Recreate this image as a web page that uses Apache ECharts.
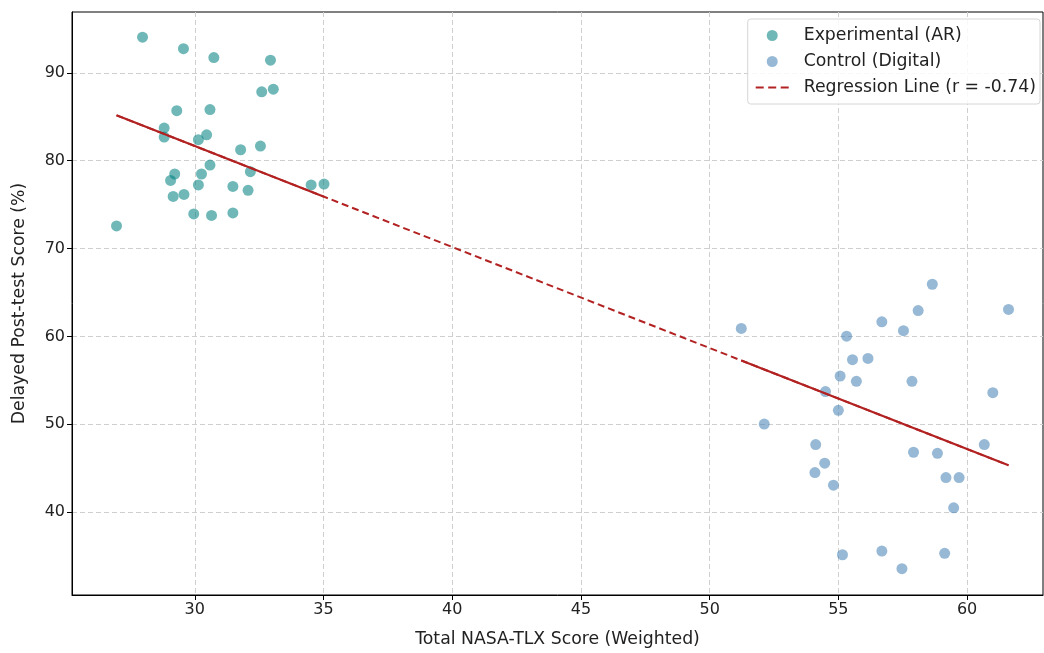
<!DOCTYPE html>
<html>
<head>
<meta charset="utf-8">
<title>NASA-TLX vs Delayed Post-test</title>
<script src="https://cdn.jsdelivr.net/npm/echarts@6/dist/echarts.min.js"></script>
<style>
  html, body { margin: 0; padding: 0; background: #fff; }
  #chart { width: 1044px; height: 653px; }
</style>
</head>
<body>
<div id="chart"></div>
<script>
// experimental group (AR)
const expX = [27.97, 29.56, 30.74, 32.94, 32.60, 33.05, 29.30, 30.59, 28.81, 28.81,
  30.14, 30.46, 31.78, 32.55, 30.59, 32.16, 30.26, 29.22, 29.06, 30.14,
  31.48, 32.07, 34.52, 35.02, 29.16, 29.58, 29.96, 30.65, 31.48, 26.96];
const expY = [94.06, 92.76, 91.74, 91.44, 87.84, 88.15, 85.70, 85.83, 83.72, 82.69,
  82.40, 82.95, 81.25, 81.67, 79.51, 78.75, 78.49, 78.49, 77.76, 77.24,
  77.08, 76.63, 77.24, 77.35, 75.94, 76.17, 73.94, 73.78, 74.06, 72.58];

// control group (Digital)
const ctrlX = [51.23, 58.65, 61.61, 58.10, 56.69, 57.53, 55.32, 55.55, 56.15, 55.07,
  55.70, 57.86, 54.50, 61.00, 55.00, 52.12, 54.12, 60.67, 57.92, 58.85,
  54.47, 54.09, 59.18, 59.69, 54.81, 59.48, 55.16, 56.69, 57.47, 59.13];
const ctrlY = [60.91, 65.94, 63.07, 62.95, 61.67, 60.65, 60.03, 57.35, 57.50, 55.49,
  54.89, 54.89, 53.72, 53.60, 51.59, 50.03, 47.69, 47.69, 46.82, 46.70,
  45.57, 44.51, 43.94, 43.94, 43.07, 40.49, 35.15, 35.57, 33.56, 35.31];

const xTicks = [30, 35, 40, 45, 50, 55, 60];
const yTicks = [40, 50, 60, 70, 80, 90];

// least squares fit over both groups
const allX = expX.concat(ctrlX);
const allY = expY.concat(ctrlY);
const n = allX.length;
const mx = allX.reduce((a, b) => a + b, 0) / n;
const my = allY.reduce((a, b) => a + b, 0) / n;
let sxy = 0, sxx = 0;
for (let i = 0; i < n; i++) {
  sxy += (allX[i] - mx) * (allY[i] - my);
  sxx += (allX[i] - mx) * (allX[i] - mx);
}
const slope = sxy / sxx;
const icpt = my - slope * mx;
const fit = (x) => [x, icpt + slope * x];

const xMin = Math.min(...allX), xMax = Math.max(...allX);
const zip = (xs, ys) => xs.map((x, i) => [x, ys[i]]);

const font = "'DejaVu Sans', sans-serif";
const lineColor = '#b22222';
const txt = '#222';
// dashed legend handle, 33 x 11 box (tiny corner dots keep the box size)
const dashIcon = 'path://M0,0h0.1v0.1h-0.1z M0,4.5h8v2h-8z M12.5,4.5h8v2h-8z M25,4.5h8v2h-8z M32.9,10.9h0.1v0.1h-0.1z';

const chart = echarts.init(document.getElementById('chart'));

chart.setOption({
  animation: false,
  textStyle: { fontFamily: font },
  grid: {
    left: 72, top: 12, right: 1, bottom: 57,
    show: true, borderColor: '#000', borderWidth: 1
  },
  legend: {
    orient: 'vertical',
    right: 4, top: 19,
    data: [
      { name: 'Experimental (AR)' },
      { name: 'Control (Digital)' },
      { name: 'Regression Line (r = -0.74)', icon: dashIcon, itemStyle: { color: lineColor } }
    ],
    itemWidth: 33, itemHeight: 11, itemGap: 9,
    padding: [8, 4, 8, 8],
    borderColor: '#d6d6d6', borderWidth: 1, borderRadius: 3,
    backgroundColor: 'rgba(255,255,255,0.85)',
    textStyle: { fontSize: 17.3, lineHeight: 17, color: txt, fontFamily: font, padding: [0, 0, 0, 10] }
  },
  xAxis: {
    type: 'value', min: 25.23, max: 62.95,
    name: 'Total NASA-TLX Score (Weighted)',
    nameLocation: 'middle', nameGap: 36,
    nameTextStyle: { fontSize: 17.3, color: txt },
    axisLine: { show: true, onZero: false, lineStyle: { color: '#000' } },
    axisTick: { show: true, length: 5, customValues: xTicks, lineStyle: { color: '#000' } },
    axisLabel: { customValues: xTicks, fontSize: 16, color: txt, margin: 7 },
    splitLine: { show: true, lineStyle: { color: '#cfcfcf', type: [5, 3] } }
  },
  yAxis: {
    type: 'value', min: 30.57, max: 96.93,
    name: 'Delayed Post-test Score (%)',
    nameLocation: 'middle', nameGap: 44,
    nameTextStyle: { fontSize: 17.3, color: txt },
    axisLine: { show: true, onZero: false, lineStyle: { color: '#000' } },
    axisTick: { show: true, length: 5, customValues: yTicks, lineStyle: { color: '#000' } },
    axisLabel: { customValues: yTicks, fontSize: 16, color: txt, margin: 7 },
    splitLine: { show: true, lineStyle: { color: '#cfcfcf', type: [5, 3] } }
  },
  series: [
    {
      name: 'Experimental (AR)', type: 'scatter', symbolSize: 11,
      data: zip(expX, expY),
      itemStyle: { color: 'rgba(0,128,128,0.7)' },
      z: 3
    },
    {
      name: 'Control (Digital)', type: 'scatter', symbolSize: 11,
      data: zip(ctrlX, ctrlY),
      itemStyle: { color: 'rgba(70,130,180,0.7)' },
      z: 3
    },
    {
      name: 'Regression Line (r = -0.74)', type: 'line', symbol: 'none',
      data: [fit(xMin), fit(xMax)],
      lineStyle: { color: lineColor, width: 2, type: [7, 4] },
      itemStyle: { color: lineColor },
      z: 4
    },
    {
      name: 'fit-exp', type: 'line', symbol: 'none',
      data: [fit(Math.min(...expX)), fit(Math.max(...expX))],
      lineStyle: { color: lineColor, width: 2.2 }, z: 4
    },
    {
      name: 'fit-ctrl', type: 'line', symbol: 'none',
      data: [fit(Math.min(...ctrlX)), fit(Math.max(...ctrlX))],
      lineStyle: { color: lineColor, width: 2.2 }, z: 4
    }
  ]
});
</script>
</body>
</html>
